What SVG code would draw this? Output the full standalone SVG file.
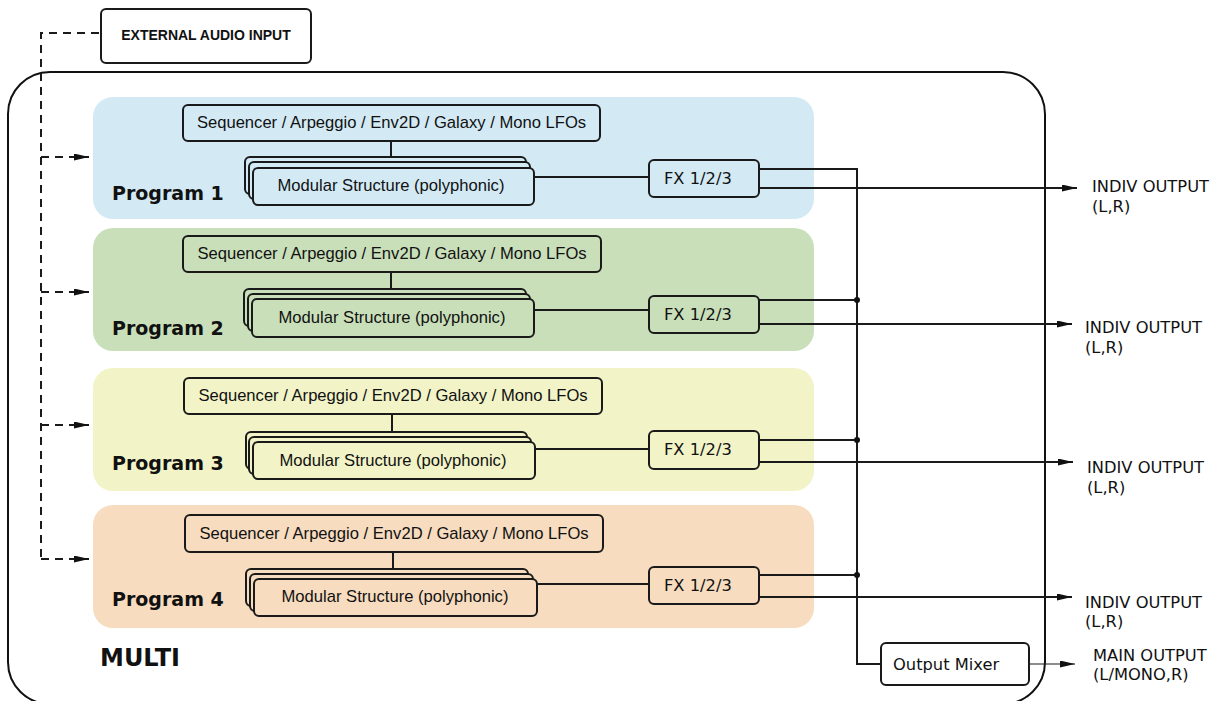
<svg xmlns="http://www.w3.org/2000/svg" width="1222" height="701" viewBox="0 0 1222 701">
<style>
.box{stroke:#1a1a1a;stroke-width:2}
.seq{font-family:"Liberation Sans",Arial,sans-serif;font-size:16.6px;fill:#111;text-anchor:middle}
.fx{font-family:"DejaVu Sans",Verdana,sans-serif;font-size:16.3px;fill:#111}
.prog{font-family:"DejaVu Sans",Verdana,sans-serif;font-size:19px;font-weight:bold;fill:#111}
.lbl{font-family:"DejaVu Sans",Verdana,sans-serif;font-size:16.3px;fill:#111}
.ln{fill:none;stroke:#1a1a1a;stroke-width:2}
.dash{fill:none;stroke:#1a1a1a;stroke-width:2;stroke-dasharray:8,6}
</style>
<defs>
<marker id="arr" markerUnits="userSpaceOnUse" markerWidth="16" markerHeight="8" refX="15" refY="3.5" orient="auto">
<path d="M0,0 L15,3.5 L0,7 z" fill="#111"/>
</marker>
</defs>

<g id="multi">
<rect x="8" y="72" width="1037" height="632" rx="42" fill="none" stroke="#111" stroke-width="2"/>
<text x="100" y="666" font-family="DejaVu Sans,Verdana,sans-serif" font-size="24" font-weight="bold" fill="#111">MULTI</text>
</g>

<g id="ext-input">
<rect class="box" x="101" y="9" width="210" height="54" rx="5" fill="#fff"/>
<text x="206" y="40" font-family="Liberation Sans,Arial,sans-serif" font-size="14" font-weight="bold" text-anchor="middle" fill="#111">EXTERNAL AUDIO INPUT</text>
</g>

<g id="program1">
<rect x="93" y="97" width="721" height="122" rx="20" fill="#d3eaf5"/>
<text class="prog" x="112" y="200">Program 1</text>
<g id="p1-seq"><rect class="box" x="183" y="105" width="417" height="36" rx="5" fill="#d3eaf5"/>
<text class="seq" x="391.5" y="128">Sequencer / Arpeggio / Env2D / Galaxy / Mono LFOs</text></g>
<g id="p1-mod">
<rect class="box" x="245" y="157" width="281" height="37" rx="5" fill="#d3eaf5"/>
<rect class="box" x="249" y="162" width="281" height="37" rx="5" fill="#d3eaf5"/>
<rect class="box" x="253" y="168" width="281" height="37" rx="5" fill="#d3eaf5"/>
<text class="seq" x="391" y="191">Modular Structure (polyphonic)</text></g>
<g id="p1-fx"><rect class="box" x="649" y="160" width="110" height="37" rx="5" fill="#d3eaf5"/>
<text class="fx" x="664" y="184">FX 1/2/3</text></g>
</g>

<g id="program2">
<rect x="93" y="228" width="721" height="123" rx="20" fill="#c9dfba"/>
<text class="prog" x="112" y="335">Program 2</text>
<g id="p2-seq"><rect class="box" x="183" y="236" width="418" height="36" rx="5" fill="#c9dfba"/>
<text class="seq" x="392" y="259">Sequencer / Arpeggio / Env2D / Galaxy / Mono LFOs</text></g>
<g id="p2-mod">
<rect class="box" x="244" y="289" width="282" height="37" rx="5" fill="#c9dfba"/>
<rect class="box" x="248" y="294" width="282" height="37" rx="5" fill="#c9dfba"/>
<rect class="box" x="252" y="299" width="282" height="38" rx="5" fill="#c9dfba"/>
<text class="seq" x="392" y="323">Modular Structure (polyphonic)</text></g>
<g id="p2-fx"><rect class="box" x="649" y="296" width="110" height="37" rx="5" fill="#c9dfba"/>
<text class="fx" x="664" y="320">FX 1/2/3</text></g>
</g>

<g id="program3">
<rect x="93" y="368" width="721" height="123" rx="20" fill="#f2f4c8"/>
<text class="prog" x="112" y="470">Program 3</text>
<g id="p3-seq"><rect class="box" x="184" y="378" width="418" height="36" rx="5" fill="#f2f4c8"/>
<text class="seq" x="393" y="401">Sequencer / Arpeggio / Env2D / Galaxy / Mono LFOs</text></g>
<g id="p3-mod">
<rect class="box" x="246" y="432" width="281" height="37" rx="5" fill="#f2f4c8"/>
<rect class="box" x="249" y="437" width="282" height="37" rx="5" fill="#f2f4c8"/>
<rect class="box" x="253" y="442" width="282" height="37" rx="5" fill="#f2f4c8"/>
<text class="seq" x="393" y="466">Modular Structure (polyphonic)</text></g>
<g id="p3-fx"><rect class="box" x="649" y="431" width="110" height="38" rx="5" fill="#f2f4c8"/>
<text class="fx" x="664" y="455">FX 1/2/3</text></g>
</g>

<g id="program4">
<rect x="93" y="505" width="721" height="123" rx="20" fill="#f7dcbf"/>
<text class="prog" x="112" y="606">Program 4</text>
<g id="p4-seq"><rect class="box" x="185" y="515" width="418" height="37" rx="5" fill="#f7dcbf"/>
<text class="seq" x="394" y="539">Sequencer / Arpeggio / Env2D / Galaxy / Mono LFOs</text></g>
<g id="p4-mod">
<rect class="box" x="246" y="569" width="282" height="37" rx="5" fill="#f7dcbf"/>
<rect class="box" x="250" y="574" width="283" height="37" rx="5" fill="#f7dcbf"/>
<rect class="box" x="254" y="579" width="283" height="37" rx="5" fill="#f7dcbf"/>
<text class="seq" x="395" y="602">Modular Structure (polyphonic)</text></g>
<g id="p4-fx"><rect class="box" x="649" y="567" width="110" height="37" rx="5" fill="#f7dcbf"/>
<text class="fx" x="664" y="591">FX 1/2/3</text></g>
</g>

<g id="mixer">
<rect class="box" x="881" y="643" width="148" height="42" rx="5" fill="#fff"/>
<text class="lbl" x="893" y="670">Output Mixer</text>
</g>

<g id="out-labels">
<g id="out1"><text class="lbl" x="1092" y="192">INDIV OUTPUT</text><text class="lbl" x="1092" y="212">(L,R)</text></g>
<g id="out2"><text class="lbl" x="1085" y="333">INDIV OUTPUT</text><text class="lbl" x="1085" y="353">(L,R)</text></g>
<g id="out3"><text class="lbl" x="1087" y="473">INDIV OUTPUT</text><text class="lbl" x="1087" y="493">(L,R)</text></g>
<g id="out4"><text class="lbl" x="1085" y="608">INDIV OUTPUT</text><text class="lbl" x="1085" y="627">(L,R)</text></g>
<g id="outmain"><text class="lbl" x="1093" y="661">MAIN OUTPUT</text><text class="lbl" x="1093" y="680">(L/MONO,R)</text></g>
</g>

<g id="connectors">
<path class="dash" d="M99,33 H41 V559"/>
<path class="dash" d="M41,157 H89" marker-end="url(#arr)"/>
<path class="dash" d="M41,292 H89" marker-end="url(#arr)"/>
<path class="dash" d="M41,425 H89" marker-end="url(#arr)"/>
<path class="dash" d="M41,559 H89" marker-end="url(#arr)"/>

<path class="ln" d="M391,141 V157"/>
<path class="ln" d="M391,272 V289"/>
<path class="ln" d="M392,414 V432"/>
<path class="ln" d="M393,552 V569"/>

<path class="ln" d="M534,177 H649"/>
<path class="ln" d="M534,310 H649"/>
<path class="ln" d="M535,449 H649"/>
<path class="ln" d="M537,584 H649"/>

<path class="ln" d="M759,169 H857 V664 H881"/>
<path class="ln" d="M759,300 H857"/>
<path class="ln" d="M759,440 H857"/>
<path class="ln" d="M759,575 H857"/>
<circle cx="857" cy="300" r="3" fill="#111"/>
<circle cx="857" cy="440" r="3" fill="#111"/>
<circle cx="857" cy="575" r="3" fill="#111"/>

<path class="ln" d="M759,188 H1077" marker-end="url(#arr)"/>
<path class="ln" d="M759,324 H1072" marker-end="url(#arr)"/>
<path class="ln" d="M759,462 H1073" marker-end="url(#arr)"/>
<path class="ln" d="M759,597 H1072" marker-end="url(#arr)"/>
<path d="M1029,664 H1075" fill="none" stroke="#1a1a1a" stroke-width="1" marker-end="url(#arr)"/>
</g>
</svg>
